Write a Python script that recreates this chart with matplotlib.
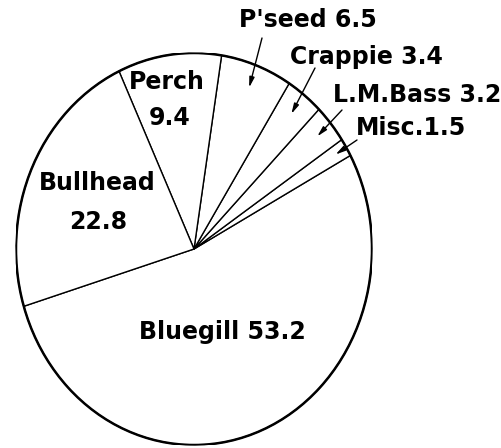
import numpy as np
import matplotlib
matplotlib.use("Agg")
import matplotlib.pyplot as plt
from matplotlib.patches import Ellipse

# fish catch composition (percent)
species = ["Bluegill", "Misc.", "L.M.Bass", "Crappie", "P'seed", "Perch", "Bullhead"]
percent = [53.2, 1.5, 3.2, 3.4, 6.5, 9.4, 22.8]
start_angle = 197

W, H = 502, 448
fig = plt.figure(figsize=(W / 100, H / 100), dpi=100)
# pie spans pixels x 16..372, y 53..445 -> slightly taller than wide
ax = fig.add_axes([16 / W, 3 / H, 356 / W, 392 / H])

wedges, _ = ax.pie(percent, startangle=start_angle, counterclock=True,
                   colors=["white"] * len(percent),
                   wedgeprops=dict(edgecolor="black", linewidth=1.0))
ax.set_aspect("auto")
ax.set_xlim(-1, 1)
ax.set_ylim(-1, 1)
ax.add_patch(Ellipse((0, 0), 2, 2, fill=False, edgecolor="black", linewidth=1.8, zorder=5))
ax.axis("off")


def px(x, y):
    # pixel position of the reference -> data coords of this axes
    return (x - 194) / 178, (249 - y) / 196


font = dict(family="DejaVu Sans", fontweight="bold", fontsize=17, color="black")

# big slices: labels inside
ax.text(*px(222, 332), "Bluegill 53.2", ha="center", va="center", **font)
ax.text(*px(97, 183), "Bullhead", ha="center", va="center", **font)
ax.text(*px(98, 222), "22.8", ha="center", va="center", **font)
ax.text(*px(167, 82), "Perch", ha="center", va="center", **font)
ax.text(*px(170, 118), "9.4", ha="center", va="center", **font)

# small slices: labels outside with arrows pointing into the wedge
outside = {
    "P'seed": (px(308, 20), px(262, 38), 0.88),
    "Crappie": (px(366, 57), px(315, 68), 0.88),
    "L.M.Bass": (px(417, 95), px(342, 110), 0.90),
    "Misc.": (px(411, 128), px(357, 140), 0.93),
}
cum = np.cumsum([0] + percent)
for i, name in enumerate(species):
    if name not in outside:
        continue
    text_xy, tail_xy, r = outside[name]
    mid = np.radians(start_angle + 3.6 * (cum[i] + cum[i + 1]) / 2)
    head = (r * np.cos(mid), r * np.sin(mid))
    sep = "" if name == "Misc." else " "
    ax.text(*text_xy, f"{name}{sep}{percent[i]}", ha="center", va="center", **font)
    ax.annotate("", xy=head, xytext=tail_xy,
                arrowprops=dict(arrowstyle="-|>,head_length=0.6,head_width=0.15",
                                color="black", lw=1.0, shrinkA=0, shrinkB=0))

fig.savefig("out.png", dpi=100, facecolor="white")
